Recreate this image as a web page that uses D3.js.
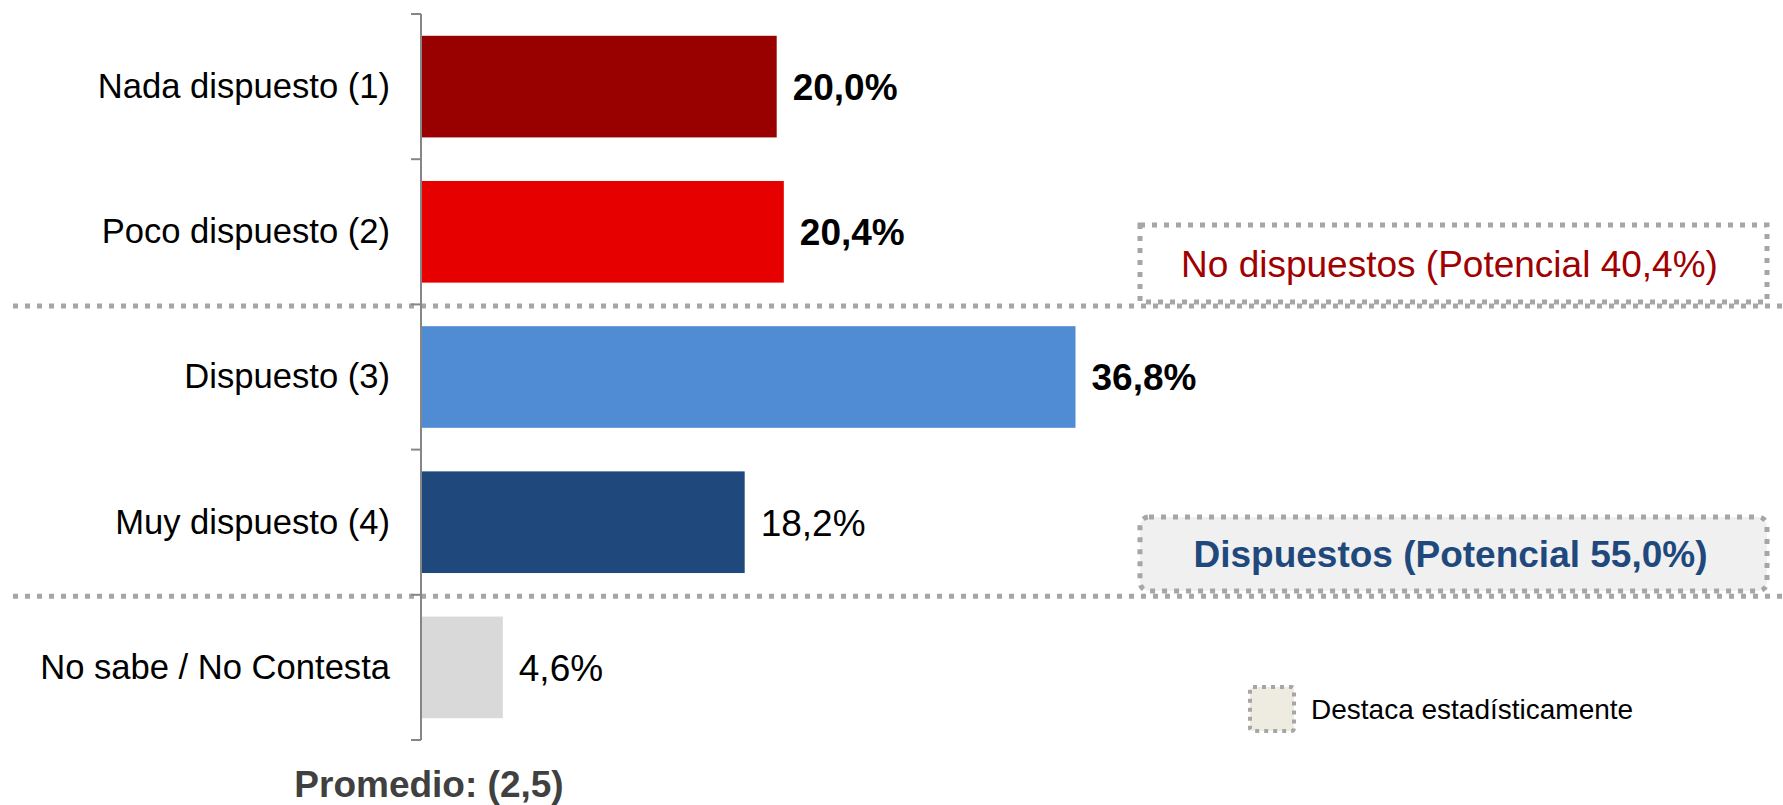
<!DOCTYPE html>
<html>
<head>
<meta charset="utf-8">
<script src="https://cdn.jsdelivr.net/npm/d3@7"></script>
<style>
  html, body { margin: 0; padding: 0; background: #ffffff; }
  svg { display: block; font-family: "Liberation Sans", Arial, sans-serif; }
</style>
</head>
<body>
<svg id="chart" width="1783" height="805"></svg>
<script>
// ---- data ----
const categories = ["Nada dispuesto (1)", "Poco dispuesto (2)", "Dispuesto (3)", "Muy dispuesto (4)", "No sabe / No Contesta"];
const values = [20.0, 20.4, 36.8, 18.2, 4.6];
const valueLabels = ["20,0%", "20,4%", "36,8%", "18,2%", "4,6%"];
const boldLabel = [true, true, true, false, false];
const barColors = ["#990000", "#E60000", "#508CD4", "#1F497D", "#D9D9D9"];
const groupTexts = ["No dispuestos (Potencial 40,4%)", "Dispuestos (Potencial 55,0%)"];
const averageText = "Promedio: (2,5)";
const legendText = "Destaca estadísticamente";

// ---- layout ----
const svg = d3.select("#chart");
const W = 1783;
const axisX = 421;
const y = d3.scaleBand().domain(categories).range([14, 740]).paddingInner(0.3).paddingOuter(0.15);
const x = d3.scaleLinear().domain([0, 40]).range([axisX, axisX + 711.4]);
const step = y.step();
const bandStart = i => y.range()[0] + i * step;

// separator dotted lines (between groups)
const sepIdx = [2, 4];
svg.append("g").selectAll("line").data(sepIdx).join("line")
  .attr("x1", 13).attr("x2", W)
  .attr("y1", d => bandStart(d) + 1.5).attr("y2", d => bandStart(d) + 1.5)
  .attr("stroke", "#A6A6A6").attr("stroke-width", 5)
  .attr("stroke-dasharray", "5 7");

// bars
svg.append("g").selectAll("rect").data(values).join("rect")
  .attr("x", x(0))
  .attr("y", (d, i) => y(categories[i]))
  .attr("width", d => x(d) - x(0))
  .attr("height", y.bandwidth())
  .attr("fill", (d, i) => barColors[i]);

// axis line and ticks at band boundaries
const axisG = svg.append("g");
axisG.append("line")
  .attr("x1", axisX).attr("x2", axisX)
  .attr("y1", y.range()[0]).attr("y2", y.range()[1])
  .attr("stroke", "#868686").attr("stroke-width", 2);
axisG.selectAll("line.tick").data(d3.range(categories.length + 1)).join("line")
  .attr("class", "tick")
  .attr("x1", axisX - 10).attr("x2", axisX)
  .attr("y1", d => bandStart(d)).attr("y2", d => bandStart(d))
  .attr("stroke", "#868686").attr("stroke-width", 2);

// category labels
svg.append("g").selectAll("text").data(categories).join("text")
  .attr("x", 390)
  .attr("y", d => y(d) + y.bandwidth() / 2)
  .attr("dy", "0.33em")
  .attr("text-anchor", "end")
  .attr("font-size", 34.6)
  .attr("fill", "#000")
  .text(d => d);

// value labels
svg.append("g").selectAll("text").data(values).join("text")
  .attr("x", d => x(d) + 16)
  .attr("y", (d, i) => y(categories[i]) + y.bandwidth() / 2)
  .attr("dy", "0.36em")
  .attr("font-size", 37)
  .attr("font-weight", (d, i) => boldLabel[i] ? "bold" : "normal")
  .attr("fill", "#000")
  .text((d, i) => valueLabels[i]);

// group boxes
const boxX = 1140, boxW = 627;
// box 1: No dispuestos (plain dotted border)
const b1y = 225, b1h = 77;
svg.append("rect")
  .attr("x", boxX).attr("y", b1y).attr("width", boxW).attr("height", b1h)
  .attr("fill", "none").attr("stroke", "#A6A6A6").attr("stroke-width", 5)
  .attr("stroke-dasharray", "5 7");
svg.append("text")
  .attr("x", boxX + boxW / 2 - 4).attr("y", b1y + b1h / 2)
  .attr("dy", "0.36em")
  .attr("text-anchor", "middle")
  .attr("font-size", 37)
  .attr("fill", "#A00000")
  .text(groupTexts[0]);

// box 2: Dispuestos (highlighted)
const b2y = 517, b2h = 74;
svg.append("rect")
  .attr("x", boxX).attr("y", b2y).attr("width", boxW).attr("height", b2h)
  .attr("rx", 9).attr("ry", 9)
  .attr("fill", "#F0F0F0").attr("stroke", "#A6A6A6").attr("stroke-width", 5)
  .attr("stroke-dasharray", "5 7");
svg.append("text")
  .attr("x", boxX + boxW / 2 - 3).attr("y", b2y + b2h / 2)
  .attr("dy", "0.36em")
  .attr("text-anchor", "middle")
  .attr("font-size", 37)
  .attr("font-weight", "bold")
  .attr("fill", "#1F497D")
  .text(groupTexts[1]);

// legend
svg.append("rect")
  .attr("x", 1250).attr("y", 687).attr("width", 44).attr("height", 44)
  .attr("rx", 3)
  .attr("fill", "#EEECE1").attr("stroke", "#A6A6A6").attr("stroke-width", 4)
  .attr("stroke-dasharray", "4 5");
svg.append("text")
  .attr("x", 1311).attr("y", 719)
  .attr("font-size", 28)
  .attr("fill", "#000")
  .text(legendText);

// average
svg.append("text")
  .attr("x", 429).attr("y", 797)
  .attr("text-anchor", "middle")
  .attr("font-size", 37)
  .attr("font-weight", "bold")
  .attr("fill", "#404040")
  .text(averageText);
</script>
</body>
</html>
